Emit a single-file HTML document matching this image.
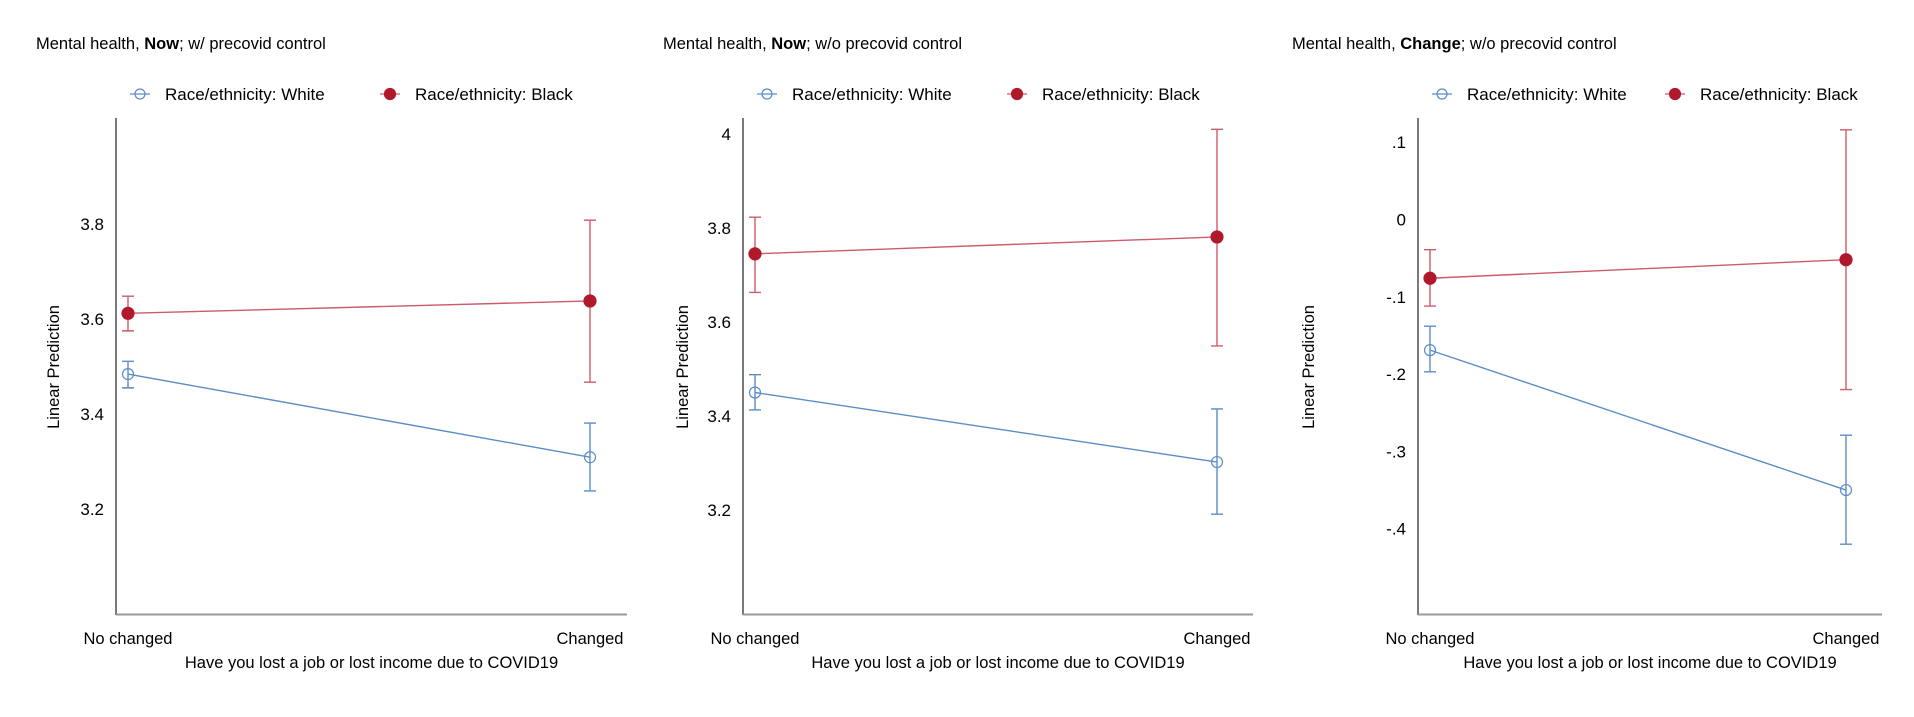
<!DOCTYPE html>
<html><head><meta charset="utf-8">
<style>
html,body{margin:0;padding:0;background:#fff;}
svg{display:block;font-family:"Liberation Sans",sans-serif;}
</style></head>
<body>
<svg id="chart" width="1914" height="717" viewBox="0 0 1914 717" xmlns="http://www.w3.org/2000/svg"></svg>
<script>
// Data
const categories = ["No changed", "Changed"];
const panelTitles = [["Mental health, ", "Now", "; w/ precovid control"],
                     ["Mental health, ", "Now", "; w/o precovid control"],
                     ["Mental health, ", "Change", "; w/o precovid control"]];
const seriesNames = ["Race/ethnicity: White", "Race/ethnicity: Black"];
// panel 1
const p1White = [3.484, 3.309];
const p1WhiteLo = [3.455, 3.238];
const p1WhiteHi = [3.511, 3.381];
const p1Black = [3.612, 3.638];
const p1BlackLo = [3.575, 3.467];
const p1BlackHi = [3.648, 3.808];
const p1Ticks = [3.2, 3.4, 3.6, 3.8];
const p1TickLabels = ["3.2", "3.4", "3.6", "3.8"];
// panel 2
const p2White = [3.45, 3.302];
const p2WhiteLo = [3.413, 3.191];
const p2WhiteHi = [3.488, 3.415];
const p2Black = [3.745, 3.781];
const p2BlackLo = [3.663, 3.549];
const p2BlackHi = [3.823, 4.01];
const p2Ticks = [3.2, 3.4, 3.6, 3.8, 4];
const p2TickLabels = ["3.2", "3.4", "3.6", "3.8", "4"];
// panel 3
const p3White = [-0.169, -0.35];
const p3WhiteLo = [-0.197, -0.42];
const p3WhiteHi = [-0.138, -0.279];
const p3Black = [-0.076, -0.052];
const p3BlackLo = [-0.112, -0.22];
const p3BlackHi = [-0.039, 0.116];
const p3Ticks = [-0.4, -0.3, -0.2, -0.1, 0, 0.1];
const p3TickLabels = ["-.4", "-.3", "-.2", "-.1", "0", ".1"];

const NS = "http://www.w3.org/2000/svg";
const svg = document.getElementById("chart");
const BLUE = "#5b8cc8", RED = "#b0182c", REDL = "#cf5a6a";

function mk(tag, attrs, parent) {
  const e = document.createElementNS(NS, tag);
  for (const k in attrs) e.setAttribute(k, attrs[k]);
  (parent || svg).appendChild(e);
  return e;
}

const layouts = [
  {ax: 116, axEnd: 627, x0: 128, x1: 590, v0: 3.6, y0: 319, pxPer: 475, titleX: 36, legW: 140, legB: 390, ylabX: 53, tickX: 104},
  {ax: 743, axEnd: 1253, x0: 755, x1: 1217, v0: 3.6, y0: 322, pxPer: 470, titleX: 663, legW: 767, legB: 1017, ylabX: 682, tickX: 731},
  {ax: 1418, axEnd: 1882, x0: 1430, x1: 1846, v0: 0, y0: 219.5, pxPer: 773, titleX: 1292, legW: 1442, legB: 1675, ylabX: 1308, tickX: 1406}
];
const panelData = [
  {w: p1White, wl: p1WhiteLo, wh: p1WhiteHi, b: p1Black, bl: p1BlackLo, bh: p1BlackHi, t: p1Ticks, tl: p1TickLabels},
  {w: p2White, wl: p2WhiteLo, wh: p2WhiteHi, b: p2Black, bl: p2BlackLo, bh: p2BlackHi, t: p2Ticks, tl: p2TickLabels},
  {w: p3White, wl: p3WhiteLo, wh: p3WhiteHi, b: p3Black, bl: p3BlackLo, bh: p3BlackHi, t: p3Ticks, tl: p3TickLabels}
];

layouts.forEach((L, i) => {
  const D = panelData[i];
  const g = mk("g", {});
  
  
  const y = v => L.y0 - (v - L.v0) * L.pxPer;
  const x = c => c === 0 ? L.x0 : L.x1;

  // title
  const t = mk("text", {x: L.titleX, y: 49, "font-size": 16.5, fill: "#000"}, g);
  
  
  panelTitles[i].forEach((s, k) => {
    const ts = mk("tspan", k === 1 ? {"font-weight": "bold"} : {}, t);
    ts.textContent = s;
  });

  // legend
  [[L.legW, BLUE, false, seriesNames[0]], [L.legB, RED, true, seriesNames[1]]].forEach(([lx, col, fill, name]) => {
    const lg = mk("g", {}, g);
    
    
    mk("line", {x1: lx - 10, x2: lx + 10, y1: 94, y2: 94, stroke: fill ? REDL : col, "stroke-width": 1.3}, lg);
    mk("circle", {cx: lx, cy: 94, r: fill ? 5.5 : 5, fill: fill ? col : "none", stroke: col, "stroke-width": 1.2}, lg);
    const lt = mk("text", {x: lx + 25, y: 100, "font-size": 17, fill: "#000"}, lg);
    lt.textContent = name;
  });

  // axes
  const ya = mk("line", {x1: L.ax, x2: L.ax, y1: 118, y2: 615, stroke: "#333", "stroke-width": 1.3}, g);
  
  
  const xa = mk("line", {x1: L.ax, x2: L.axEnd, y1: 614.5, y2: 614.5, stroke: "#999", "stroke-width": 2}, g);
  
  

  D.t.forEach((v, k) => {
    const tt = mk("text", {x: L.tickX, y: y(v) + 6, "font-size": 17, "text-anchor": "end", fill: "#000"}, g);
    
    
    tt.textContent = D.tl[k];
  });

  const yl = mk("text", {x: 0, y: 0, "font-size": 16.5, "text-anchor": "middle", fill: "#000",
    transform: `translate(${L.ylabX + 6},367) rotate(-90)`}, g);
  
  
  yl.textContent = "Linear Prediction";

  categories.forEach((c, k) => {
    const ct = mk("text", {x: x(k), y: 644, "font-size": 16.5, "text-anchor": "middle", fill: "#000"}, g);
    
    
    ct.textContent = c;
  });
  const xl = mk("text", {x: (L.ax + L.axEnd) / 2, y: 668, "font-size": 16.5, "text-anchor": "middle", fill: "#000"}, g);
  
  
  xl.textContent = "Have you lost a job or lost income due to COVID19";

  // series
  [[D.w, D.wl, D.wh, BLUE, BLUE, false, 'white'], [D.b, D.bl, D.bh, RED, REDL, true, 'black']].forEach(([vals, lo, hi, col, lcol, fill, nm]) => {
    const sg = mk("g", {}, g);
    
    
    const ln = mk("line", {x1: x(0), y1: y(vals[0]), x2: x(1), y2: y(vals[1]), stroke: lcol, "stroke-width": 1.4}, sg);
    
    
    vals.forEach((v, k) => {
      const cx = x(k);
      const eb = mk("path", {d: `M${cx - 6},${y(hi[k])}H${cx + 6}M${cx},${y(hi[k])}V${y(lo[k])}M${cx - 6},${y(lo[k])}H${cx + 6}`,
        stroke: lcol, "stroke-width": 1.4, fill: "none"}, sg);
      
      
      const pt = mk("circle", {cx: cx, cy: y(v), r: fill ? 6 : 5.5, fill: fill ? col : "#fff", "fill-opacity": fill ? 1 : 0, stroke: col, "stroke-width": 1.2}, sg);
      
      
    });
  });
});
</script>
</body></html>
